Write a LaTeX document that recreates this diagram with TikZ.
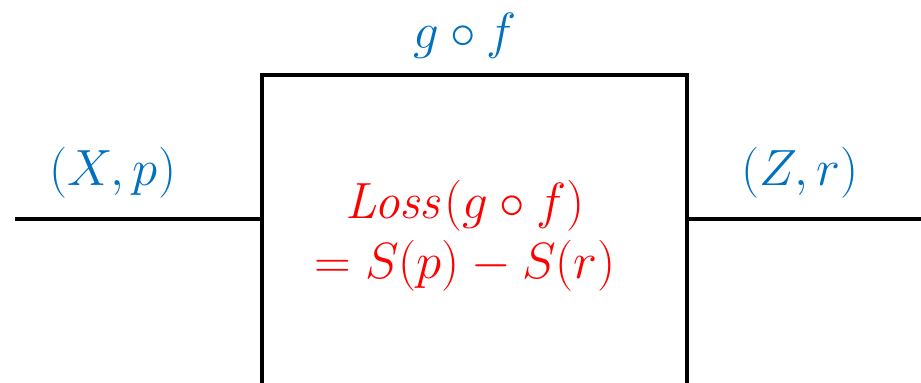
\RequirePackage{fix-cm}
\documentclass[tikz,border=0pt]{standalone}
\usepackage{xcolor}
\usepackage{amsmath}
\usetikzlibrary{positioning,calc}
\definecolor{labelblue}{RGB}{0,112,192}
\definecolor{lossred}{RGB}{255,0,0}
\begin{document}
\begin{tikzpicture}[
    block/.style={rectangle, draw=black, line width=0.08cm, minimum width=8.5cm, minimum height=7cm},
    wire/.style={line width=0.08cm},
    tag/.style={text=labelblue, inner sep=1pt, font=\fontsize{29}{34}\selectfont},
    loss/.style={text=lossred, align=center, font=\fontsize{29}{34}\selectfont}
]
\useasboundingbox (0,0) rectangle (18.42,-7.64);
\clip (0,0) rectangle (18.42,-7.64);

% Block
\node[block] (box) at (9.49,-5) {};

% Wires
\coordinate (in) at (0.3,-4.38);
\coordinate (out) at (18.6,-4.38);
\draw[wire] (in) -- (in -| box.west);
\draw[wire] (out -| box.east) -- (out);

% Labels
\node[tag] (gf) at (9.3,-0.72) {$g\circ f$};
\node[tag] (xp) at (2.26,-3.46) {$(X,p)$};
\node[tag] (zr) at (16.0,-3.46) {$(Z,r)$};
\node[loss] (lossexpr) at (9.3,-4.72) {$\mathit{Loss}(g\circ f)$\\$=S(p)-S(r)$};

\end{tikzpicture}
\end{document}
